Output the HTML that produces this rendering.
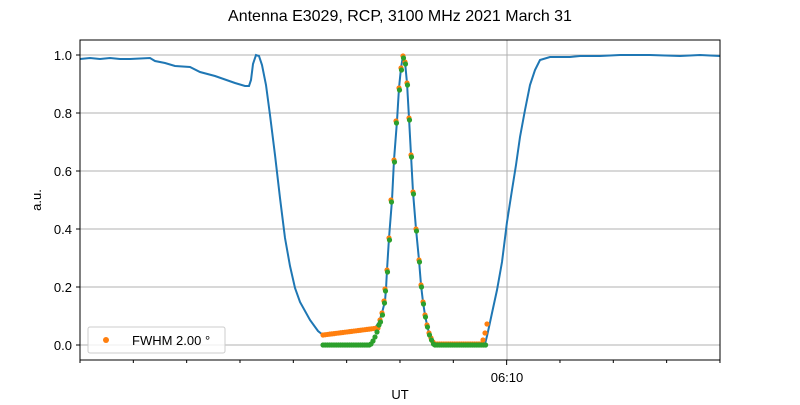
<!DOCTYPE html><html><head><style>body{margin:0;background:#fff}</style></head><body>
<svg id="s" width="800" height="400" xmlns="http://www.w3.org/2000/svg" font-family="Liberation Sans, DejaVu Sans, sans-serif">
<rect width="800" height="400" fill="#fff"/>
<text x="400" y="21" font-size="16" text-anchor="middle">Antenna E3029, RCP, 3100 MHz 2021 March 31</text>
<g stroke="#b0b0b0" stroke-width="1">
<line x1="80" x2="720" y1="345" y2="345"/><line x1="80" x2="720" y1="287" y2="287"/><line x1="80" x2="720" y1="229" y2="229"/><line x1="80" x2="720" y1="171" y2="171"/><line x1="80" x2="720" y1="113" y2="113"/><line x1="80" x2="720" y1="55" y2="55"/>
<line x1="507" x2="507" y1="40" y2="360"/>
</g>
<g font-size="13" text-anchor="end">
<text x="72" y="350">0.0</text><text x="72" y="292">0.2</text><text x="72" y="234">0.4</text><text x="72" y="176">0.6</text><text x="72" y="118">0.8</text><text x="72" y="60">1.0</text>
</g>
<g stroke="#000" stroke-width="1">
<line x1="76" x2="80" y1="345" y2="345"/><line x1="76" x2="80" y1="287" y2="287"/><line x1="76" x2="80" y1="229" y2="229"/><line x1="76" x2="80" y1="171" y2="171"/><line x1="76" x2="80" y1="113" y2="113"/><line x1="76" x2="80" y1="55" y2="55"/>
<path id="tk" d=""/>
</g>
<text x="507" y="382" font-size="13" text-anchor="middle">06:10</text>
<text x="400" y="399" font-size="13" text-anchor="middle">UT</text>
<text transform="translate(41,200) rotate(-90)" font-size="13" text-anchor="middle">a.u.</text>
<polyline fill="none" stroke="#1f77b4" stroke-width="2" points="80,59 90,58 100,59 110,58 120,59 130,59 150,58 155,61 165,63 175,66 190,67 200,72 215,76 235,83 245,86 249,86 251,80 253,64 256,55 259,56 262,65 266,85 270,115 275,155 280,198 285,238 290,266 295,288 300,302 310,320 318,331 323,335 330,333 350,331 375,328 379,322 382,313 385,301 386,289 387,270 389,238 392,200 394,160 397,121 399,88 401,68 403,56 405,62 407,83 409,118 411,155 413,192 416,229 419,260 421,285 423,302 425,315 427,325 429,333 431,338 433,342 436,344 485,344 487,336 489,327 492,313 497,290 502,262 507,222 512,190 516,165 520,137 525,110 530,85 535,70 540,60 550,57 570,57 580,56 600,56 620,55 650,55 680,56 700,55 720,56"/>
<g id="dots"></g>
<rect x="88" y="327" width="137" height="26" fill="#fff" fill-opacity="0.8" stroke="#ccc" rx="2"/>
<circle cx="106" cy="340" r="3" fill="#ff7f0e"/>
<text x="132" y="345" font-size="13">FWHM 2.00 °</text>
<rect x="80" y="40" width="640" height="320" fill="none" stroke="#000" stroke-width="1"/>
</svg>
<script>
var ns="http://www.w3.org/2000/svg",g=document.getElementById("dots");
var t="";for(var i=0;i<=12;i++){var x=80+i*53.33;t+="M"+x+",360v"+(i==8?5:3);}document.getElementById("tk").setAttribute("d",t);
function c(x,y,col){var e=document.createElementNS(ns,"circle");e.setAttribute("cx",x);e.setAttribute("cy",y);e.setAttribute("r",2.6);e.setAttribute("fill",col);g.appendChild(e);}
var O="#ff7f0e",G="#2ca02c";
var pk=[[380,320],[382,313],[384,301],[385,289],[387,270],[389,238],[391,200],[394,160],[396,121],[399,88],[401,68],[403,56],[405,62],[407,83],[409,118],[411,155],[413,192],[416,229],[419,260],[421,285],[423,302],[425,315],[427,325],[429,333],[431,338],[433,342]];
for(var x=323;x<379;x+=2.2){c(x,335-(x-323)/55*7,O);}
pk.forEach(function(p){c(p[0],p[1],O);});
for(var x=435;x<483;x+=2.2){c(x,344,O);}
c(483,340,O);c(485,333,O);c(487,324,O);
for(var x=323;x<370;x+=2.2){c(x,345,G);}
c(371,344,G);c(373,341,G);c(375,337,G);c(377,332,G);c(379,325,G);
pk.forEach(function(p){c(p[0]+0.5,p[1]+2,G);});
for(var x=435;x<=487;x+=2.2){c(x,345,G);}
</script>
</body></html>
